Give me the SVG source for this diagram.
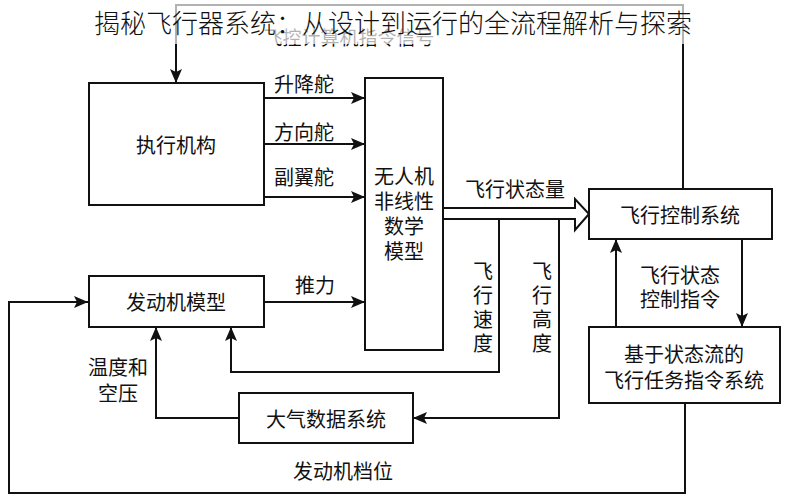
<svg xmlns="http://www.w3.org/2000/svg" width="786" height="500" viewBox="0 0 786 500">
<defs>
<marker id="ah" viewBox="0 0 14 12" refX="14" refY="6" markerWidth="14" markerHeight="12" markerUnits="userSpaceOnUse" orient="auto">
<path d="M0,0 L14,6 L0,12 L3,6 z" fill="#111"/>
</marker>
<style>
.box{fill:#fff;stroke:#111;stroke-width:2}
.ln{fill:none;stroke:#111;stroke-width:2}
.arr{fill:none;stroke:#111;stroke-width:2;marker-end:url(#ah)}
.t{font-family:"Noto Sans CJK SC","Noto Sans CJK JP",sans-serif;font-size:20px;fill:#111;text-anchor:middle;dominant-baseline:central}
</style>
</defs>
<rect width="786" height="500" fill="#fff"/>
<g id="connectors">
<path class="arr" d="M683,189 V5 H176 V83"/>
<path class="arr" d="M264,98 H365"/>
<path class="arr" d="M264,144 H365"/>
<path class="arr" d="M264,197 H365"/>
<path class="arr" d="M264,302 H365"/>
<path class="ln" d="M443,208 H575 V199 L589,214 L575,230 V219 H443" style="fill:#fff"/>
<path class="arr" d="M499,219 V372 H231 V327"/>
<path class="arr" d="M559,219 V418 H413"/>
<path class="arr" d="M239,418 H156 V327"/>
<path class="arr" d="M616,327 V239"/>
<path class="arr" d="M742,239 V327"/>
<path class="arr" d="M685,403 V493 H9 V302 H88"/>
<text class="t" x="304" y="83">升降舵</text>
<text class="t" x="304" y="131">方向舵</text>
<text class="t" x="304" y="176">副翼舵</text>
<text class="t" x="315" y="284">推力</text>
<text class="t" x="515" y="188">飞行状态量</text>
<text class="t" x="680" y="274">飞行状态<tspan x="680" dy="24">控制指令</tspan></text>
<text class="t" x="118" y="366">温度和<tspan x="118" dy="26">空压</tspan></text>
<text class="t" x="343" y="470">发动机档位</text>
<text class="t" x="483" y="270">飞<tspan x="483" dy="24">行</tspan><tspan x="483" dy="24">速</tspan><tspan x="483" dy="24">度</tspan></text>
<text class="t" x="542" y="270">飞<tspan x="542" dy="24">行</tspan><tspan x="542" dy="24">高</tspan><tspan x="542" dy="24">度</tspan></text>
<text class="t" x="349" y="36" style="font-size:19px">飞控计算机指令信号</text>
</g>
<g id="actuator">
<rect class="box" x="89" y="83" width="175" height="122"/>
<text class="t" x="176" y="144">执行机构</text>
</g>
<g id="uav-model">
<rect class="box" x="365" y="78" width="78" height="272"/>
<text class="t" x="404" y="175">无人机<tspan x="404" dy="25">非线性</tspan><tspan x="404" dy="25">数学</tspan><tspan x="404" dy="25">模型</tspan></text>
</g>
<g id="engine-model">
<rect class="box" x="89" y="276" width="175" height="51"/>
<text class="t" x="176" y="301">发动机模型</text>
</g>
<g id="air-data">
<rect class="box" x="239" y="393" width="174" height="50"/>
<text class="t" x="326" y="418">大气数据系统</text>
</g>
<g id="flight-control">
<rect class="box" x="589" y="189" width="183" height="50"/>
<text class="t" x="680" y="214">飞行控制系统</text>
</g>
<g id="mission-command">
<rect class="box" x="589" y="327" width="191" height="76"/>
<text class="t" x="684" y="353">基于状态流的<tspan x="684" dy="26">飞行任务指令系统</tspan></text>
</g>
<g id="title">
<rect x="0" y="0" width="786" height="44" fill="#fff" fill-opacity="0.68"/>
<text x="393" y="21" style="font-family:'Noto Sans CJK SC','Noto Sans CJK JP',sans-serif;font-size:26px;font-weight:300;fill:#111;text-anchor:middle;dominant-baseline:central">揭秘飞行器系统：从设计到运行的全流程解析与探索</text>
</g>
</svg>
